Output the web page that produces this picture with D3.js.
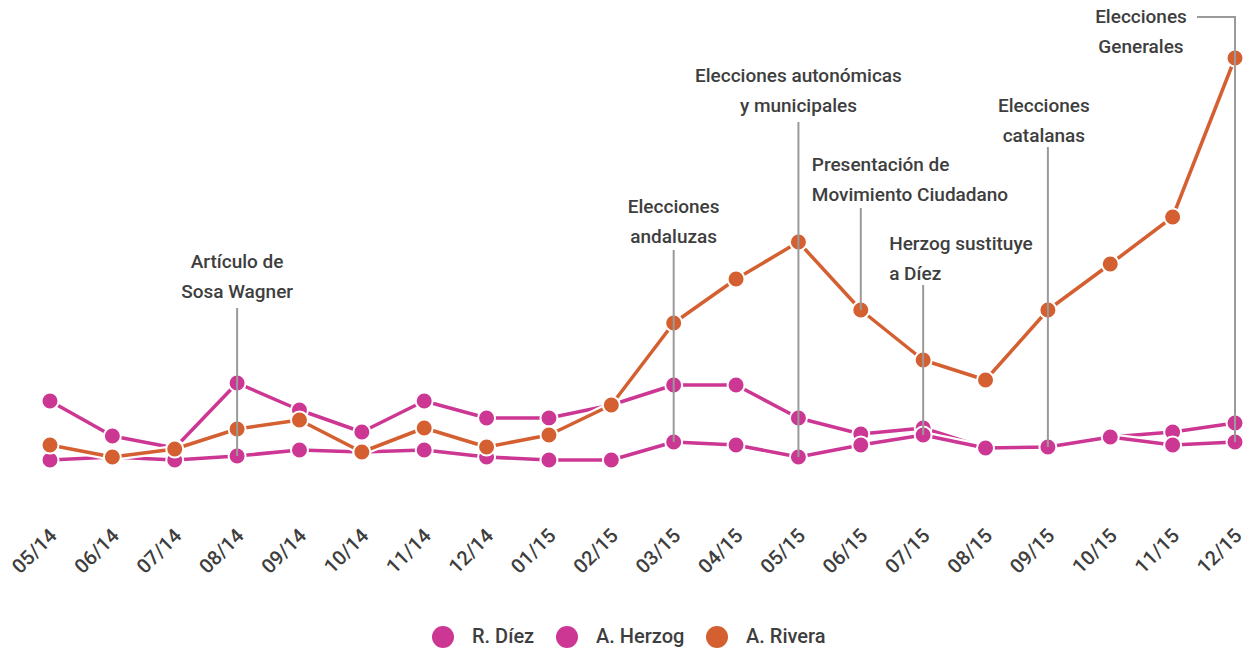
<!DOCTYPE html>
<html>
<head>
<meta charset="utf-8">
<script src="https://cdn.jsdelivr.net/npm/d3@7"></script>
<style>
  html, body { margin: 0; padding: 0; background: #fff; }
  svg { display: block; font-family: Roboto, "Noto Sans", sans-serif; }
</style>
</head>
<body>
<svg id="chart" width="1250" height="652"></svg>
<script>
const months = ["05/14","06/14","07/14","08/14","09/14","10/14","11/14","12/14","01/15","02/15","03/15","04/15","05/15","06/15","07/15","08/15","09/15","10/15","11/15","12/15"];
const diez   = [17.25, 8.5, 5.5, 21.75, 15, 9.5, 17.25, 13, 13, 16.25, 21.25, 21.25, 13, 9, 10.5, 5.5, 5.75, 8.25, 9.5, 11.75];
const herzog = [2.5, 3.25, 2.5, 3.5, 5, 4.5, 5, 3.25, 2.5, 2.5, 7, 6.25, 3.25, 6.25, 8.75, 5.5, 5.75, 8.25, 6.25, 7];
const rivera = [6.25, 3.25, 5.25, 10.25, 12.5, 4.5, 10.5, 5.75, 8.75, 16.25, 36.75, 47.75, 57, 40, 27.5, 22.5, 40, 51.5, 63.25, 103];
const seriesNames = ["R. Díez", "A. Herzog", "A. Rivera"];
const seriesColors = ["#cd3794", "#cd3794", "#d45f30"];
const annoMonths = ["08/14", "03/15", "05/15", "06/15", "07/15", "09/15", "12/15"];
const annoTexts = [
  ["Artículo de", "Sosa Wagner"],
  ["Elecciones", "andaluzas"],
  ["Elecciones autonómicas", "y municipales"],
  ["Presentación de", "Movimiento Ciudadano"],
  ["Herzog sustituye", "a Díez"],
  ["Elecciones", "catalanas"],
  ["Elecciones", "Generales"]
];
const annoTargets = ["A. Herzog", "A. Herzog", "A. Herzog", "A. Rivera", "A. Herzog", "A. Herzog", "A. Herzog"];

const seriesData = [diez, herzog, rivera];

// layout
const svg = d3.select("#chart");
const x = d3.scalePoint().domain(months).range([50, 1235]);
const y = d3.scaleLinear().domain([0, 110]).range([470, 30]);
const textColor = "#3e3e3e";

// annotation layout (label position relative to point, alignment)
const annoLayout = [
  {tx: 0,   ty: 263, anchor: "middle", top: 308},
  {tx: 0,   ty: 208, anchor: "middle", top: 250},
  {tx: 0,   ty: 77,  anchor: "middle", top: 122},
  {tx: -49, ty: 166, anchor: "start",  top: 208},
  {tx: -34, ty: 245, anchor: "start",  top: 285},
  {tx: -4,  ty: 107, anchor: "middle", top: 147},
  {tx: -94, ty: 18,  anchor: "middle", top: 17, elbow: true}
];

// x axis labels
const xAxis = d3.axisBottom(x).tickSize(0).tickPadding(0);
const gx = svg.append("g").call(xAxis);
gx.select(".domain").remove();
gx.selectAll(".tick").attr("transform", d => `translate(${x(d) + 8},537)`);
gx.selectAll(".tick text")
  .attr("x", 0).attr("y", 0).attr("dy", 0)
  .attr("transform", "rotate(-45)")
  .attr("text-anchor", "end")
  .style("font-family", "Roboto, sans-serif")
  .style("font-size", "20px")
  .style("font-weight", 500)
  .attr("fill", textColor);

// series
const line = d3.line().x((d, i) => x(months[i])).y(d => y(d));
seriesData.forEach((vals, si) => {
  const g = svg.append("g");
  g.append("path").datum(vals).attr("d", line)
    .attr("fill", "none").attr("stroke", "#fff").attr("stroke-width", 8)
    .attr("stroke-linejoin", "round");
  g.append("path").datum(vals).attr("d", line)
    .attr("fill", "none").attr("stroke", seriesColors[si]).attr("stroke-width", 3.5)
    .attr("stroke-linejoin", "round");
  g.selectAll("circle").data(vals).join("circle")
    .attr("cx", (d, i) => x(months[i])).attr("cy", d => y(d))
    .attr("r", 8.5).attr("fill", seriesColors[si])
    .attr("stroke", "#fff").attr("stroke-width", 2);
});

// annotations
const ga = svg.append("g");
annoMonths.forEach((m, ai) => {
  const L = annoLayout[ai];
  const px = x(m);
  const idx = months.indexOf(m);
  const target = seriesData[seriesNames.indexOf(annoTargets[ai])][idx];
  const bottom = y(target);
  if (L.elbow) {
    ga.append("path")
      .attr("d", `M${px + L.tx + 56},${L.top}H${px}V${bottom}`)
      .attr("fill", "none").attr("stroke", "#9a9a9a").attr("stroke-width", 2);
  } else {
    ga.append("line").attr("x1", px).attr("x2", px).attr("y1", L.top).attr("y2", bottom)
      .attr("stroke", "#9a9a9a").attr("stroke-width", 2);
  }
  const t = ga.append("text")
    .attr("text-anchor", L.anchor)
    .style("font-size", "19px")
    .style("font-weight", 500)
    .attr("fill", textColor);
  annoTexts[ai].forEach((s, li) => {
    t.append("tspan").attr("x", px + L.tx).attr("y", L.ty + li * 30)
      .attr("dominant-baseline", "middle").text(s);
  });
});

// legend
const legendX = [443, 567, 717];
const gl = svg.append("g");
seriesNames.forEach((n, i) => {
  gl.append("circle").attr("cx", legendX[i]).attr("cy", 637).attr("r", 11).attr("fill", seriesColors[i]);
  gl.append("text").attr("x", legendX[i] + 29).attr("y", 638).attr("dominant-baseline", "middle")
    .style("font-size", "20px").style("font-weight", 500).attr("fill", textColor).text(n);
});
</script>
</body>
</html>
